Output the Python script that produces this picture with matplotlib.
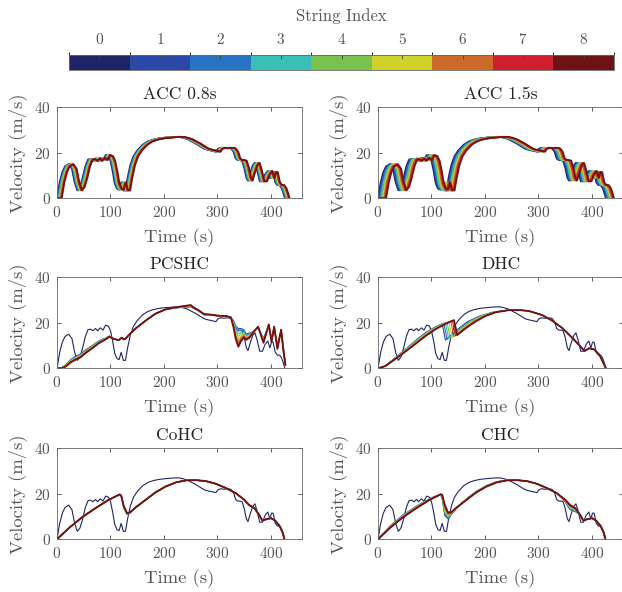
import numpy as np
import matplotlib
matplotlib.use('Agg')
import matplotlib as mpl
import matplotlib.pyplot as plt
from matplotlib.colors import ListedColormap, BoundaryNorm

plt.rcParams['font.family'] = 'serif'
plt.rcParams['font.serif'] = ['cmr10', 'DejaVu Serif']
plt.rcParams['mathtext.fontset'] = 'cm'
plt.rcParams['axes.formatter.use_mathtext'] = True
plt.rcParams['axes.unicode_minus'] = False

# ---------------- data ----------------
string_index = [0, 1, 2, 3, 4, 5, 6, 7, 8]
string_colors = ['#1f2468', '#2b48a6', '#2874c4', '#3abfb7', '#79c24d',
                 '#cfd22a', '#cc6a2a', '#d01f30', '#6e1214']
panel_titles = ['ACC 0.8s', 'ACC 1.5s', 'PCSHC', 'DHC', 'CoHC', 'CHC']
x_ticks = [0, 100, 200, 300, 400]
y_ticks = [0, 20, 40]

# lead vehicle (string 0) velocity profile
lead_t = [0, 5, 10, 15, 22, 28, 33, 38, 43, 48, 53, 58, 63, 67, 72, 76, 81, 86, 91, 96,
          100, 104, 108, 112, 116, 120, 124, 128, 132, 137, 143, 150, 160, 170, 180, 190,
          200, 210, 220, 228, 236, 244, 252, 260, 268, 276, 284, 292, 297, 301, 306, 312,
          318, 325, 330, 334, 338, 342, 346, 350, 354, 357, 361, 366, 370, 374, 379, 384,
          389, 394, 398, 401, 404, 408, 412, 416, 420, 423, 426]
lead_v = [0, 7, 11.5, 14, 15, 13, 7, 3.5, 5, 9, 14, 17, 17.2, 16.5, 17.5, 16.5, 17.8, 16.8, 19, 18.5,
          16.5, 12, 6.5, 4.3, 3.8, 7, 3.5, 3.5, 9, 14.5, 18.5, 21, 23.5, 25, 25.8, 26.3,
          26.6, 26.8, 27, 27, 26.6, 26, 25, 24, 22.8, 21.7, 21.2, 20.8, 20.5, 21.8, 22.2, 22.0,
          22.2, 22.0, 20.5, 17.5, 16.8, 16.8, 16.5, 13.5, 9, 7.8, 11, 14.5, 15.6, 12.5, 7.5, 7.5,
          10.5, 12, 9, 11.5, 11.5, 7, 5.8, 5.8, 4.5, 2.5, 0]

# ACC: per-string time lag behind the lead (s)
acc08_lag = [0, 1.1, 2.2, 3.3, 4.4, 5.5, 6.6, 7.7, 8.8]
acc15_lag = [0, 1.9, 3.8, 5.7, 7.6, 9.5, 11.4, 13.3, 15.2]

# PCSHC: last string profile, deviation of string 1 from it, fan weights
pc_t = [0, 9, 16, 25, 34, 44, 53, 66, 78, 91, 98, 106, 116, 121, 125, 129, 134, 147, 166, 184,
        203, 222, 238, 250, 254, 266, 275, 284, 294, 303, 316, 325, 330, 334, 339, 344, 349, 354,
        360, 366, 376, 386, 396, 401, 406, 412, 419, 423, 427]
pc_v = [0, 0, 0.7, 2.5, 3.7, 4.8, 6.6, 8.8, 11, 12.7, 13.9, 12.9, 12.4, 13.5, 12.7, 13.2, 14.6, 17.5, 21, 24,
        25.9, 26.8, 27.4, 27.8, 27, 25.3, 23.8, 23.7, 23.4, 23.1, 23, 22.4, 18, 13, 9.5, 12, 13.5, 12.5,
        13.5, 15.5, 18.3, 11.2, 19.3, 11.5, 18.3, 8.5, 17, 8, 1.5]
pc_dev = [0, 0.3, 0.8, 1.2, 1.5, 1.5, 1.4, 1.2, 1, 0.6, 0.3, 0, 0, 0, 0, 0, 0, 0, 0, 0,
          0, -0.3, -0.5, -0.8, -0.6, -0.3, -0.3, -0.3, -0.2, -0.2, -0.2, 0, 3, 5.5, 8, 5.5, 3.5, 2.5,
          2, 0.5, -0.5, 2, -0.5, 2, -0.5, 2, -0.5, 2, 0]
fan_w = [1.0, 0.86, 0.71, 0.57, 0.43, 0.29, 0.14, 0.0]

# DHC: last string profile, per-string peak time and value offsets
dhc_t = [0, 14, 32, 51, 70, 89, 107, 126, 142, 145, 148, 156, 164, 182, 201, 220, 245, 264, 282, 307,
         326, 345, 364, 376, 386, 395, 404, 414, 423, 426]
dhc_v = [0, 1, 4, 7.3, 10.7, 14.2, 17.1, 19.5, 21.2, 18, 14.6, 16.1, 17.6, 20.5, 23, 24.6, 25.6, 25.6, 25.2, 23.4,
         20.9, 17.6, 13.2, 10.2, 7.6, 8.8, 8.3, 5.9, 1.5, 0]
dhc_peak_t = [120, 123, 126, 129, 132.5, 136, 139, 142]
dhc_peak_off = [-1.6, -1.4, -1.15, -0.9, -0.7, -0.45, -0.25, 0]
dhc_trough_off = [-2.2, -1.9, -1.6, -1.3, -1.0, -0.65, -0.3, 0]

# CoHC / CHC: last string profile and deviation of string 1
hc_t = [0, 22, 47, 72, 97, 110, 117, 120, 125, 131, 136, 147, 166, 184, 203, 222, 241, 259, 278, 297,
        316, 334, 350, 359, 369, 378, 384, 391, 400, 408, 416, 422, 425]
coh_v = [0, 4.9, 9.7, 13.7, 17.4, 18.9, 19.7, 19.3, 14.5, 11.5, 11.8, 14, 17.4, 20.6, 23.2, 25, 25.9, 26, 25.6, 24.4,
         22.5, 20.3, 17.4, 15.1, 13.7, 10.7, 8.2, 8.8, 9.3, 8.2, 5.9, 2.9, 0]
coh_dev = [0, 0, 0, 0, 0, 0, 0, -0.3, -0.8, -0.6, -0.3, 0, 0, 0, 0, 0, 0, 0, 0, 0,
           0, 0, 0, 0, 0, 0, 0, 0, 0, 0, 0, 0, 0]
chc_v = [0, 4.9, 9.7, 13.7, 17.4, 18.9, 19.8, 19.6, 15, 11.8, 11.8, 14, 17.4, 20.6, 23.2, 25, 25.9, 26, 25.6, 24.4,
         22.5, 20.3, 17.4, 15.1, 13.7, 10.7, 8.2, 8.8, 9.3, 8.2, 5.9, 2.9, 0]
chc_dev = [0, 0.8, 1.0, 0.8, 0.5, 0.3, -0.3, -1.5, -4.5, -2.8, -1.2, -0.3, 0.5, 0.5, 0.4, 0.3, 0.1, 0, 0, 0,
           0, 0, -1.0, -2.0, -1.5, 0, 0, 0, 0, 0, 0, 0, 0]

# ---------------- figure ----------------
W, H = 622, 592
fig = plt.figure(figsize=(W / 100, H / 100), dpi=100)


def fpos(l, t, w, h):
    return [l / W, 1 - (t + h) / H, w / W, h / H]


col_left = [57, 378]
row_top = [107.3, 277.3, 448.3]
AW, AH = 245, 91

GRAY = '#555555'
axes = []
for r in range(3):
    for c in range(2):
        ax = fig.add_axes(fpos(col_left[c], row_top[r], AW, AH))
        axes.append(ax)


def style(ax, title):
    ax.set_xlim(0, 458)
    ax.set_ylim(0, 40)
    ax.set_xticks(x_ticks)
    ax.set_yticks(y_ticks)
    ax.tick_params(direction='in', top=True, right=True, length=3, width=0.6,
                   colors='#444444', labelcolor=GRAY, labelsize=11, pad=4.5)
    for s in ax.spines.values():
        s.set_color('#666666')
        s.set_linewidth(0.6)
    ax.set_xlabel('Time (s)', fontsize=13.4, color=GRAY, labelpad=6)
    ax.set_ylabel('Velocity (m/s)', fontsize=13.4, color=GRAY, labelpad=5)
    ax.set_title(title, fontsize=12.6, color='#222222', pad=6)


lt = np.array(lead_t, float)
lv = np.array(lead_v, float)

# ACC panels
for ax, lags in ((axes[0], acc08_lag), (axes[1], acc15_lag)):
    for i, lag in enumerate(lags):
        t = np.concatenate([[0.0], lt + lag])
        v = np.concatenate([[0.0], lv])
        ax.plot(t, v, color=string_colors[i], lw=1.3, solid_joinstyle='round')

# PCSHC
ax = axes[2]
ax.plot(lt, lv, color=string_colors[0], lw=0.8)
for i in range(1, 9):
    v = np.array(pc_v) + np.array(pc_dev) * fan_w[i - 1]
    ax.plot(pc_t, v, color=string_colors[i], lw=1.3 if i == 8 else 0.8)

# DHC
ax = axes[3]
ax.plot(lt, lv, color=string_colors[0], lw=0.8)
for i in range(1, 9):
    T = dhc_peak_t[i - 1]
    t_i = np.interp(dhc_t, [0, 142, 148, 250, 430], [0, T, T + 6, 250, 430])
    adj = np.interp(t_i, [0, T, T + 6, T + 45], [0, dhc_peak_off[i - 1], dhc_trough_off[i - 1], 0])
    ax.plot(t_i, np.array(dhc_v) + adj, color=string_colors[i], lw=1.3 if i == 8 else 0.8)

# CoHC & CHC
for ax, base, dev in ((axes[4], coh_v, coh_dev), (axes[5], chc_v, chc_dev)):
    ax.plot(lt, lv, color=string_colors[0], lw=0.8)
    for i in range(1, 9):
        v = np.array(base) + np.array(dev) * fan_w[i - 1]
        ax.plot(hc_t, v, color=string_colors[i], lw=1.3 if i == 8 else 0.9)

for ax, title in zip(axes, panel_titles):
    style(ax, title)

# colorbar
cax = fig.add_axes(fpos(69, 55, 545, 15))
cmap = ListedColormap(string_colors)
norm = BoundaryNorm(np.arange(-0.5, 9.5, 1), cmap.N)
cb = mpl.colorbar.ColorbarBase(cax, cmap=cmap, norm=norm, orientation='horizontal',
                               ticks=string_index, ticklocation='top')
cb.ax.tick_params(direction='in', length=3, width=0.6, colors='#444444',
                  labelcolor=GRAY, labelsize=11, pad=6)
cb.outline.set_edgecolor('#666666')
cb.outline.set_linewidth(0.6)
cb.set_label('String Index', fontsize=12, color=GRAY, labelpad=8)

fig.savefig('out.png', dpi=100)
